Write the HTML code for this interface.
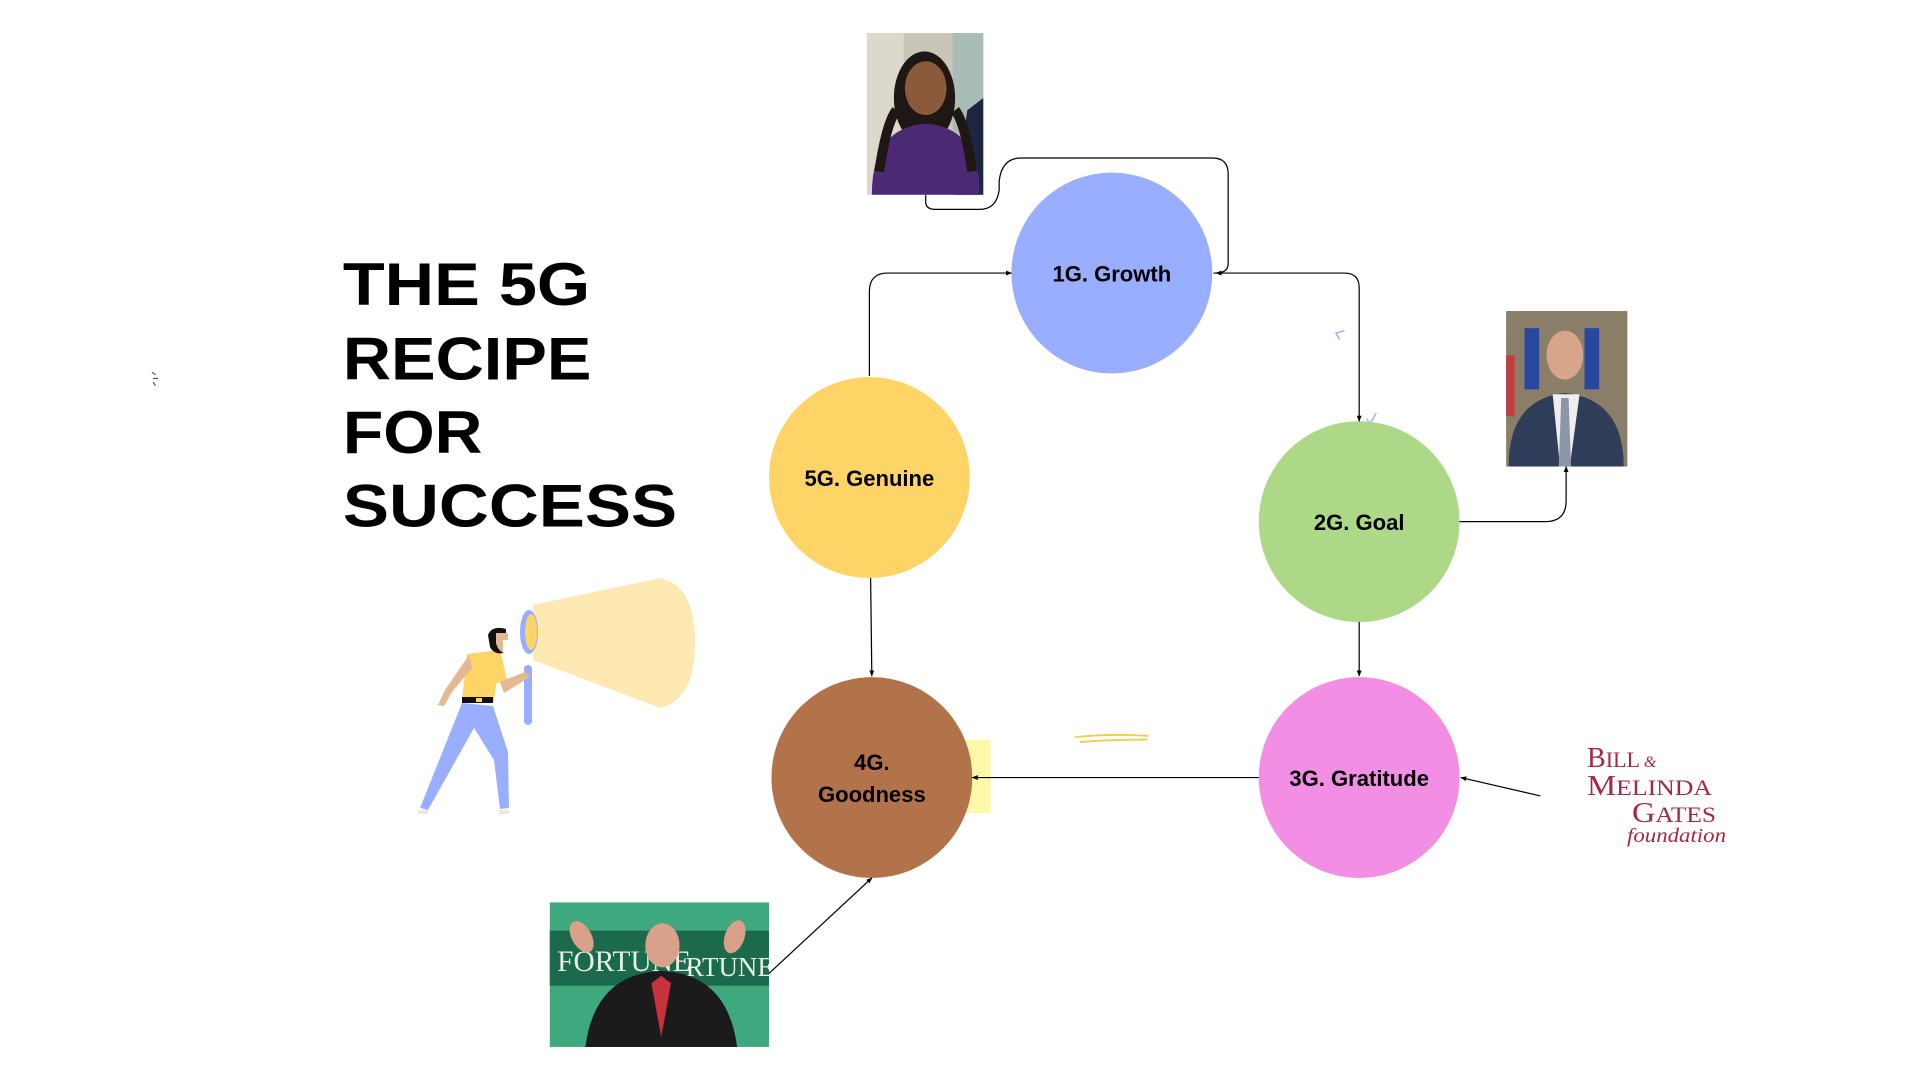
<!DOCTYPE html>
<html><head><meta charset="utf-8"><style>html,body{margin:0;padding:0;background:#fff;width:1920px;height:1080px;overflow:hidden}svg{display:block}</style></head>
<body>
<svg width="1920" height="1080" viewBox="0 0 1920 1080" xmlns="http://www.w3.org/2000/svg">
<defs>
<marker id="a" viewBox="0 0 10 10" refX="9" refY="5" markerWidth="5" markerHeight="5" orient="auto"><path d="M0,1 L10,5 L0,9 z" fill="#000"/></marker>
</defs>
<g transform="scale(1.22449)">
<!-- title -->
<g font-family="Liberation Sans, Arial, sans-serif" font-weight="bold" font-size="49" fill="#000">
<text x="280" y="249" textLength="202" lengthAdjust="spacingAndGlyphs">THE 5G</text>
<text x="280" y="310" textLength="203" lengthAdjust="spacingAndGlyphs">RECIPE</text>
<text x="280" y="370" textLength="114" lengthAdjust="spacingAndGlyphs">FOR</text>
<text x="280" y="430" textLength="273" lengthAdjust="spacingAndGlyphs">SUCCESS</text>
</g>
<!-- small mark -->
<path d="M124,304 l3,2 M125,309 h4 M125,312 l2,3" stroke="#333" stroke-width="0.8" fill="none"/>
<!-- sticky -->
<rect x="788" y="604" width="21" height="60" fill="#fdf7a8"/>
<path d="M878,602 q30,-3 60,-1 M882,606 q25,-2 55,-2" stroke="#f2cc4a" stroke-width="1.5" fill="none"/>
<path d="M1098,270 l-7,2 l3,5" stroke="#8fa3ff" stroke-width="1" fill="none"/>
<path d="M1116,342 l3,4 l5,-9" stroke="#8fa3ff" stroke-width="1" fill="none"/>
<!-- circles -->
<circle cx="908" cy="223" r="82" fill="#9aaeff"/>
<circle cx="710" cy="390" r="82" fill="#ffd466"/>
<circle cx="1110" cy="426" r="82" fill="#acd888"/>
<circle cx="1110" cy="635" r="82" fill="#f28ee3"/>
<circle cx="712" cy="635" r="82" fill="#b3734a"/>
<g font-family="Liberation Sans, Arial, sans-serif" font-weight="bold" font-size="18" fill="#000" text-anchor="middle">
<text x="908" y="230">1G. Growth</text>
<text x="710" y="397">5G. Genuine</text>
<text x="1110" y="433">2G. Goal</text>
<text x="1110" y="642">3G. Gratitude</text>
<text x="712" y="629">4G.</text>
<text x="712" y="655">Goodness</text>
</g>
<!-- connectors -->
<g stroke="#000" stroke-width="1" fill="none">
<path d="M756,159 V165 q0,6 8,6 H800 q14,0 16,-16 V148 q2,-19 18,-19 H990 q13,0 13,13 V215 q0,8 -10,8" marker-end="url(#a)"/>
<path d="M991,223 H1098 q12,0 12,12 V344" marker-end="url(#a)"/>
<path d="M710,307 V238 q0,-15 15,-15 H826" marker-end="url(#a)"/>
<path d="M711,472 L712,552" marker-end="url(#a)"/>
<path d="M1110,508 V552" marker-end="url(#a)"/>
<path d="M1192,426 H1262 q17,0 17,-17 V381" marker-end="url(#a)"/>
<path d="M1028,635 H794" marker-end="url(#a)"/>
<path d="M1258,650 L1193,635" marker-end="url(#a)"/>
<path d="M628,795 L712,717" marker-end="url(#a)"/>
</g>
<!-- Oprah photo -->
<g>
<rect x="708" y="27" width="95" height="132" fill="#c9c6b8"/>
<rect x="708" y="27" width="30" height="132" fill="#ddd8cc"/>
<rect x="778" y="27" width="25" height="132" fill="#a9bcb5"/>
<path d="M790,90 L803,80 V159 H780 z" fill="#1c2640"/>
<ellipse cx="755" cy="80" rx="25" ry="38" fill="#1e1713"/>
<ellipse cx="756" cy="72" rx="17" ry="22" fill="#8a5a3b"/>
<path d="M712,159 q0,-55 44,-58 q44,3 44,58 z" fill="#4b2a73"/>
<path d="M718,140 q6,-40 14,-50 M794,140 q-6,-40 -14,-50" stroke="#1e1713" stroke-width="8" fill="none"/>
</g>
<!-- Bezos photo -->
<g>
<rect x="1230" y="254" width="99" height="127" fill="#8a7e68"/>
<rect x="1245" y="268" width="12" height="50" fill="#2848a0"/>
<rect x="1294" y="268" width="12" height="50" fill="#2848a0"/>
<rect x="1230" y="290" width="7" height="50" fill="#c04040"/>
<path d="M1232,381 q0,-55 46,-60 q48,5 48,60 z" fill="#2f3d58"/>
<path d="M1268,322 h22 l-8,59 h-8 z" fill="#eeeeee"/>
<path d="M1275,325 h6 l2,56 h-10 z" fill="#8c96a8"/>
<ellipse cx="1278" cy="290" rx="15" ry="20" fill="#d7a58a"/>
</g>
<!-- Buffett photo -->
<g>
<rect x="449" y="737" width="179" height="118" fill="#3ea87e"/>
<rect x="449" y="760" width="179" height="45" fill="#1c6a4c"/>
<text x="455" y="793" font-family="Liberation Serif, serif" font-size="24" fill="#e6efe8">FORTUNE</text>
<text x="560" y="797" font-family="Liberation Serif, serif" font-size="22" fill="#e6efe8">RTUNE</text>
<path d="M478,855 q8,-60 62,-62 q54,2 62,62 z" fill="#1b1b1e"/>
<path d="M540,797 l-8,6 l8,44 l8,-44 z" fill="#c8323a"/>
<ellipse cx="541" cy="772" rx="14" ry="18" fill="#d9a08a"/>
<ellipse cx="475" cy="765" rx="8" ry="14" fill="#d9a08a" transform="rotate(-30 475 765)"/>
<ellipse cx="600" cy="765" rx="8" ry="14" fill="#d9a08a" transform="rotate(20 600 765)"/>
</g>
</g>
<!-- Gates logo (real coords) -->
<g font-family="Liberation Serif, serif" fill="#a6283f">
<text x="1587" y="767" font-size="28">B<tspan font-size="22">ILL</tspan><tspan font-size="16" font-style="italic"> &amp;</tspan></text>
<text x="1587" y="795" font-size="28" textLength="125" lengthAdjust="spacingAndGlyphs">M<tspan font-size="22">ELINDA</tspan></text>
<text x="1632" y="822" font-size="28" textLength="84" lengthAdjust="spacingAndGlyphs">G<tspan font-size="22">ATES</tspan></text>
<text x="1627" y="842" font-size="20" font-style="italic" textLength="99" lengthAdjust="spacingAndGlyphs">foundation</text>
</g>
<!-- person with flashlight (real coords) -->
<g>
<path d="M533,605 L660,578 Q695,585 695,643 Q695,700 660,708 L533,660 z" fill="#ffe9b3"/>
<ellipse cx="529" cy="632" rx="9" ry="22" fill="#9aaeff"/>
<ellipse cx="531" cy="632" rx="6" ry="18" fill="#ffd466"/>
<rect x="524" y="665" width="8" height="60" rx="4" fill="#9aaeff"/>
<path d="M467,654 L500,650 L507,680 L496,684 L494,702 L462,700 z" fill="#ffd466"/>
<path d="M469,655 L445,690 L438,705 L444,706 L452,692 L472,668 z" fill="#e3b893"/>
<path d="M500,682 L525,672 L530,677 L504,693 z" fill="#e3b893"/>
<path d="M490,632 q10,-4 18,2 v6 l-5,0 v12 q-5,4 -10,-2 z" fill="#e3b893"/>
<path d="M488,635 q4,-10 18,-6 v4 h-10 v10 q2,8 8,10 q-10,2 -14,-6 z" fill="#111"/>
<rect x="462" y="697" width="31" height="6" fill="#111"/>
<rect x="476" y="698" width="6" height="4" fill="#ffd466"/>
<path d="M462,703 L493,706 L508,752 L509,808 L500,809 L494,760 L474,728 L428,810 L420,808 z" fill="#9aaeff"/>
<rect x="418" y="810" width="10" height="4" fill="#eee8dd"/>
<rect x="499" y="810" width="10" height="4" fill="#eee8dd"/>
</g>
</svg>
</body></html>
